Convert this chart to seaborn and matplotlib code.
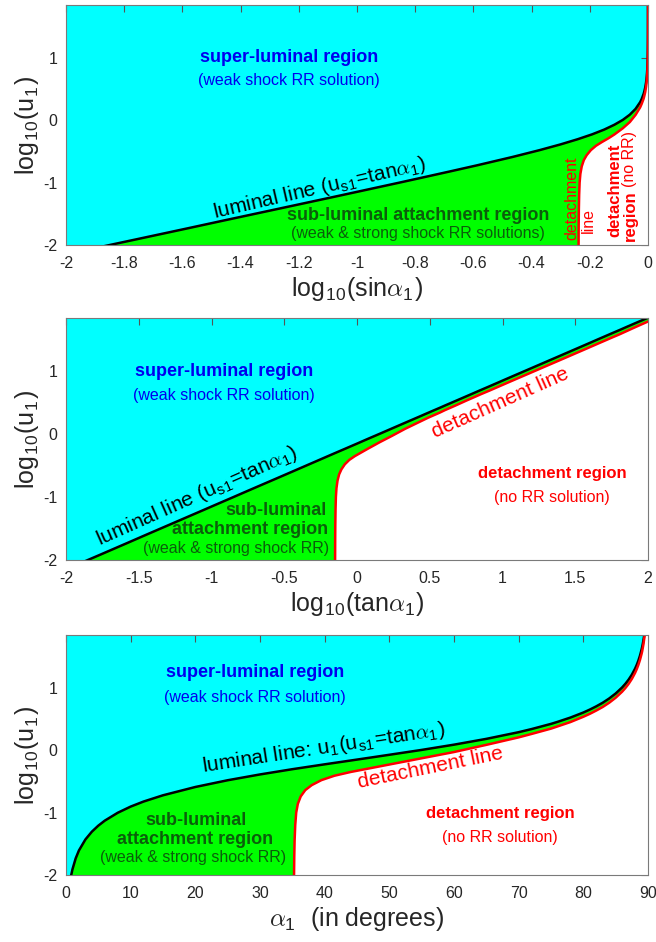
import numpy as np
import pandas as pd
import matplotlib
matplotlib.use("Agg")
import matplotlib.pyplot as plt
import seaborn as sns

# ---- data (alpha in degrees, log10(u1)) ----
alpha_luminal = [0.7, 0.81, 1, 1.5, 2, 3, 4, 5, 6, 8, 10, 12, 15, 20, 25, 30, 35, 40, 45,
                 50, 55, 60, 65, 70, 72, 75, 76, 78, 80, 81, 82, 83, 84, 85, 86, 86.5, 87,
                 87.5, 88, 88.25, 88.5, 88.75, 89, 89.1, 89.2, 89.35, 89.45]
logu_luminal = [-2.063, -2.0, -1.909, -1.733, -1.607, -1.431, -1.306, -1.209, -1.129, -1.003,
                -0.904, -0.823, -0.723, -0.590, -0.482, -0.389, -0.305, -0.227, -0.151,
                -0.074, 0.004, 0.088, 0.181, 0.288, 0.338, 0.421, 0.453, 0.522, 0.603, 0.650,
                0.702, 0.760, 0.828, 0.908, 1.005, 1.063, 1.130, 1.209, 1.306, 1.364, 1.431,
                1.511, 1.608, 1.653, 1.705, 1.795, 1.867]

alpha_detach = [35.26, 35.3, 35.35, 35.45, 35.6, 35.85, 36.3, 37.0, 38.0, 39.5, 41.5, 44,
                47, 50, 55, 60, 65, 70, 72, 75, 76, 78, 80, 81, 82, 83, 84, 85, 86, 86.5,
                87, 87.5, 88, 88.25, 88.5, 88.75, 89, 89.1, 89.3, 89.5]
logu_detach = [-2.05, -1.7, -1.45, -1.2, -1.0, -0.86, -0.74, -0.64, -0.56, -0.48, -0.41,
               -0.35, -0.29, -0.23, -0.13, -0.03, 0.085, 0.205, 0.26, 0.345, 0.38, 0.45,
               0.535, 0.582, 0.635, 0.692, 0.76, 0.84, 0.937, 0.995, 1.062, 1.141, 1.238,
               1.296, 1.363, 1.443, 1.540, 1.585, 1.70, 1.85]

yticks = [-2, -1, 0, 1]
yticklabels = ["-2", "-1", "0", "1"]
xticks_sin = [-2, -1.8, -1.6, -1.4, -1.2, -1, -0.8, -0.6, -0.4, -0.2, 0]
xticklabels_sin = ["-2", "-1.8", "-1.6", "-1.4", "-1.2", "-1", "-0.8", "-0.6", "-0.4", "-0.2", "0"]
xticks_tan = [-2, -1.5, -1, -0.5, 0, 0.5, 1, 1.5, 2]
xticklabels_tan = ["-2", "-1.5", "-1", "-0.5", "0", "0.5", "1", "1.5", "2"]
xticks_deg = [0, 10, 20, 30, 40, 50, 60, 70, 80, 90]
xticklabels_deg = [str(v) for v in xticks_deg]

YMIN, YMAX = -2, 1.845

sns.set_theme(style="white")
plt.rcParams["font.family"] = ["Liberation Sans", "DejaVu Sans"]
plt.rcParams["mathtext.fontset"] = "cm"
plt.rcParams["axes.unicode_minus"] = False

CYAN = "#00FFFF"
GREEN = "#00FF00"
BLUE = "#0000EE"
DGREEN = "#0B5E0B"
RED = "#FF0000"
SPINE = "#7a7a7a"

fig = plt.figure(figsize=(6.56, 9.42), dpi=100)
W, H = 656, 942


def add_ax(top, bottom):
    return fig.add_axes([66 / W, 1 - bottom / H, 582 / W, (bottom - top) / H])


def xmap(kind, a):
    a = np.asarray(a, dtype=float)
    if kind == "sin":
        return np.log10(np.sin(np.radians(a)))
    if kind == "tan":
        return np.log10(np.tan(np.radians(a)))
    return a


def draw_panel(ax, kind, xlim, xticks, xticklabels, xlabel, xr):
    ax.set_facecolor(CYAN)
    xb = xmap(kind, alpha_luminal)
    yb = np.array(logu_luminal)
    xd = xmap(kind, alpha_detach)
    yd = np.array(logu_detach)
    # green region below the luminal line
    ax.fill(np.r_[xb, xr, xr, xb[0]], np.r_[yb, yb[-1], -3, -3], color=GREEN, lw=0, zorder=1)
    # white detachment region
    ax.fill(np.r_[xd, xr, xr, xd[0]], np.r_[yd, yd[-1], -3, -3], color="white", lw=0, zorder=2)
    df = pd.concat([
        pd.DataFrame({"x": xb, "y": yb, "curve": "luminal"}),
        pd.DataFrame({"x": xd, "y": yd, "curve": "detach"}),
    ])
    sns.lineplot(data=df, x="x", y="y", hue="curve", palette={"luminal": "black", "detach": RED},
                 sort=False, estimator=None, legend=False, ax=ax, lw=1.8, zorder=3)
    ax.set_xlim(*xlim)
    ax.set_ylim(YMIN, YMAX)
    ax.set_xticks(xticks)
    ax.set_xticklabels(xticklabels)
    ax.set_yticks(yticks)
    ax.set_yticklabels(yticklabels)
    ax.tick_params(direction="in", top=True, right=True, length=5, width=0.8, color="#555555",
                   labelsize=11.5, labelcolor="#262626", pad=8)
    ax.tick_params(axis="y", pad=6)
    for s in ax.spines.values():
        s.set_color(SPINE)
        s.set_linewidth(0.8)
        s.set_zorder(5)
    ax.set_xlabel(xlabel, fontsize=18, color="#262626", labelpad=3)
    ax.set_ylabel(r"log$_{\mathregular{10}}$(u$_{\mathregular{1}}$)", fontsize=18,
                  color="#262626", labelpad=2)


def t(ax, x, y, s, color, size, bold=False, rot=0):
    ax.text(x, y, s, color=color, fontsize=size, fontweight="bold" if bold else "normal",
            ha="center", va="center", rotation=rot, rotation_mode="anchor", zorder=6)


lum = r"luminal line (u$_{\mathregular{s1}}$=tan$\alpha_{\mathregular{1}}$)"

# ---------------- panel 1 ----------------
ax1 = add_ax(5, 245)
draw_panel(ax1, "sin", (-2, 0), xticks_sin, xticklabels_sin,
           r"log$_{\mathregular{10}}$(sin$\alpha_{\mathregular{1}}$)", 0.2)
t(ax1, -1.234, 1.0, "super-luminal region", BLUE, 13, True)
t(ax1, -1.234, 0.63, "(weak shock RR solution)", BLUE, 11.5)
t(ax1, -1.13, -1.09, lum, "black", 15, rot=13)
t(ax1, -0.79, -1.52, "sub-luminal attachment region", DGREEN, 13, True)
t(ax1, -0.79, -1.81, "(weak & strong shock RR solutions)", DGREEN, 11.5)
t(ax1, -0.262, -1.25, "detachment", RED, 11.5, rot=90)
t(ax1, -0.206, -1.6, "line", RED, 11.5, rot=90)
t(ax1, -0.113, -1.13, "detachment", RED, 12, True, rot=90)
t(ax1, -0.062, -1.53, "region", RED, 12, True, rot=90)
t(ax1, -0.062, -0.62, "(no RR)", RED, 11.5, rot=90)

# ---------------- panel 2 ----------------
ax2 = add_ax(318, 560)
draw_panel(ax2, "tan", (-2, 2), xticks_tan, xticklabels_tan,
           r"log$_{\mathregular{10}}$(tan$\alpha_{\mathregular{1}}$)", 3)
t(ax2, -0.914, 1.0, "super-luminal region", BLUE, 13, True)
t(ax2, -0.914, 0.61, "(weak shock RR solution)", BLUE, 11.5)
t(ax2, -1.10, -0.99, lum, "black", 15, rot=24)
t(ax2, -0.56, -1.22, "sub-luminal", DGREEN, 13, True)
t(ax2, -0.735, -1.52, "attachment region", DGREEN, 13, True)
t(ax2, -0.834, -1.81, "(weak & strong shock RR)", DGREEN, 11.5)
t(ax2, 0.983, 0.50, "detachment line", RED, 15, rot=24)
t(ax2, 1.34, -0.63, "detachment region", RED, 12, True)
t(ax2, 1.34, -1.0, "(no RR solution)", RED, 11.5)

# ---------------- panel 3 ----------------
ax3 = add_ax(635, 875)
draw_panel(ax3, "deg", (0, 90), xticks_deg, xticklabels_deg,
           r"$\alpha_{\mathregular{1}}$  (in degrees)", 100)
t(ax3, 29.2, 1.24, "super-luminal region", BLUE, 13, True)
t(ax3, 29.2, 0.84, "(weak shock RR solution)", BLUE, 11.5)
t(ax3, 39.9, 0.03, r"luminal line: u$_{\mathregular{1}}$(u$_{\mathregular{s1}}$=tan$\alpha_{\mathregular{1}}$)",
  "black", 15, rot=8.7)
t(ax3, 56.4, -0.29, "detachment line", RED, 15, rot=11.5)
t(ax3, 20.1, -1.12, "sub-luminal", DGREEN, 13, True)
t(ax3, 19.9, -1.43, "attachment region", DGREEN, 13, True)
t(ax3, 19.6, -1.72, "(weak & strong shock RR)", DGREEN, 11.5)
t(ax3, 67.2, -1.02, "detachment region", RED, 12, True)
t(ax3, 67.1, -1.40, "(no RR solution)", RED, 11.5)

fig.savefig("out.png", dpi=100)
